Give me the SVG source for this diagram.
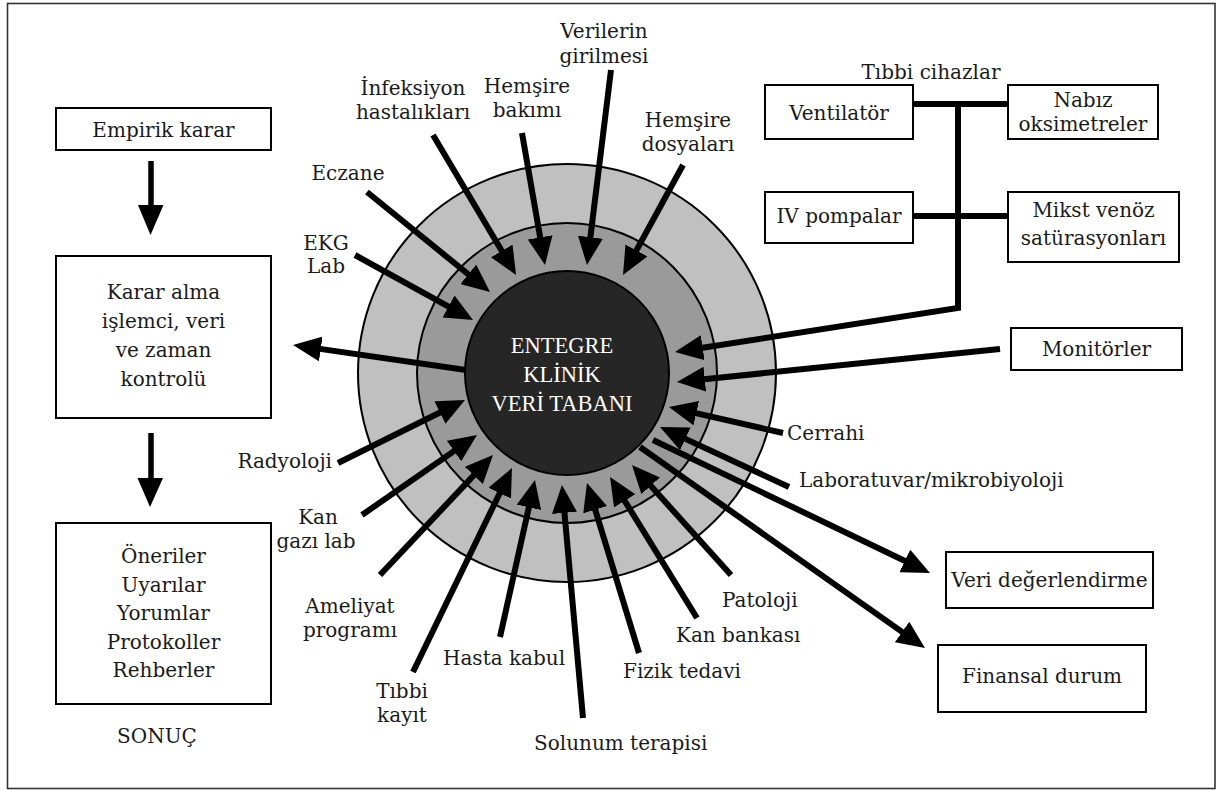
<svg xmlns="http://www.w3.org/2000/svg" width="1217" height="790" viewBox="0 0 1217 790">
<style>
text{font-family:"DejaVu Serif","Liberation Serif",serif;font-size:20px;fill:#1a1a1a}
.c{text-anchor:middle}
.box{fill:#fff;stroke:#000;stroke-width:2}
.ln{fill:none;stroke:#000;stroke-width:6}
.ctr{font-family:"Liberation Serif",serif;font-size:22.5px;fill:#fff;text-anchor:middle}
</style>
<defs>
<marker id="ah" markerUnits="userSpaceOnUse" viewBox="0 0 28 25" markerWidth="28" markerHeight="25" refX="13" refY="12.5" orient="auto"><path d="M0,0 L28,12.5 L0,25 Z" fill="#000"/></marker>
</defs>
<rect x="7.5" y="3.5" width="1207.5" height="785" fill="#fff" stroke="#333" stroke-width="1.6"/>

<g id="database">
<circle cx="567" cy="373" r="209" fill="#c0c0c0" stroke="#000" stroke-width="2"/>
<circle cx="567" cy="373" r="150" fill="#9a9a9a" stroke="#000" stroke-width="2"/>
<circle cx="567" cy="373" r="102" fill="#262626" stroke="#000" stroke-width="2"/>
</g>

<g id="connectors">
<path class="ln" d="M433,135 L508.4,262.1" marker-end="url(#ah)"/>
<path class="ln" d="M522,133 L542.4,250.2" marker-end="url(#ah)"/>
<path class="ln" d="M611,70 L588.8,250.1" marker-end="url(#ah)"/>
<path class="ln" d="M683,165 L630.2,261.8" marker-end="url(#ah)"/>
<path class="ln" d="M367,192 L478.4,282.5" marker-end="url(#ah)"/>
<path class="ln" d="M355,255 L459.9,312.8" marker-end="url(#ah)"/>
<path class="ln" d="M466,370 L307.9,347.1" marker-end="url(#ah)"/>
<path class="ln" d="M338,463 L451.6,406.7" marker-end="url(#ah)"/>
<path class="ln" d="M362,515 L464.7,443.6" marker-end="url(#ah)"/>
<path class="ln" d="M380,575 L482.7,465.9" marker-end="url(#ah)"/>
<path class="ln" d="M413,672 L505.4,481.5" marker-end="url(#ah)"/>
<path class="ln" d="M500,637 L531.7,494.6" marker-end="url(#ah)"/>
<path class="ln" d="M583,718 L563.3,499.9" marker-end="url(#ah)"/>
<path class="ln" d="M639,653 L591.4,497.3" marker-end="url(#ah)"/>
<path class="ln" d="M697,618 L617.9,489.8" marker-end="url(#ah)"/>
<path class="ln" d="M731,575 L642,476.1" marker-end="url(#ah)"/>
<path class="ln" d="M789,487 L673.6,433.4" marker-end="url(#ah)"/>
<path class="ln" d="M783,433 L683.6,410.3" marker-end="url(#ah)"/>
<path class="ln" d="M1000,349 L691.9,380.5" marker-end="url(#ah)"/>
<path class="ln" d="M913,104 L1008,104 M913,216 L1008,216"/>
<path class="ln" d="M958,104 L958,308 L689.8,349.7" marker-end="url(#ah)"/>
<path class="ln" d="M653,440 L916.5,566.5" marker-end="url(#ah)"/>
<path class="ln" d="M640,447 L912.7,639.4" marker-end="url(#ah)"/>
<path d="M151,161 L151,207" stroke="#000" stroke-width="5.5"/>
<polygon points="138,205 163.5,205 150.5,235" fill="#000"/>
<path d="M151,433 L151,480" stroke="#000" stroke-width="5.5"/>
<polygon points="137.5,478 163,478 150,507" fill="#000"/>
</g>

<g id="center-label">
<text class="ctr" x="562" y="353">ENTEGRE</text>
<text class="ctr" x="562" y="382">KLİNİK</text>
<text class="ctr" x="562" y="411">VERİ TABANI</text>
</g>

<g id="empirik"><rect class="box" x="56" y="108" width="215" height="42"/><text class="c" x="163.5" y="137">Empirik karar</text></g>
<g id="karar"><rect class="box" x="56" y="256" width="215" height="162"/>
<text class="c" x="163.5" y="299">Karar alma</text><text class="c" x="163.5" y="328">işlemci, veri</text><text class="c" x="163.5" y="357">ve zaman</text><text class="c" x="163.5" y="386">kontrolü</text></g>
<g id="sonuc"><rect class="box" x="56" y="523" width="215" height="181"/>
<text class="c" x="163.5" y="563">Öneriler</text><text class="c" x="163.5" y="591.5">Uyarılar</text><text class="c" x="163.5" y="620">Yorumlar</text><text class="c" x="163.5" y="648.5">Protokoller</text><text class="c" x="163.5" y="677">Rehberler</text></g>
<g id="sonuc-label"><text class="c" x="157" y="743">SONUÇ</text></g>

<g id="tibbi-cihazlar"><text class="c" x="931" y="79">Tıbbi cihazlar</text></g>
<g id="ventilator"><rect class="box" x="765" y="85" width="148" height="54"/><text class="c" x="839" y="120">Ventilatör</text></g>
<g id="nabiz"><rect class="box" x="1008" y="85" width="150" height="54"/><text class="c" x="1083" y="107">Nabız</text><text class="c" x="1083" y="131">oksimetreler</text></g>
<g id="iv"><rect class="box" x="765" y="192" width="148" height="51"/><text class="c" x="839" y="223">IV pompalar</text></g>
<g id="mikst"><rect class="box" x="1008" y="192" width="171" height="70"/><text class="c" x="1093.5" y="217">Mikst venöz</text><text class="c" x="1093.5" y="245">satürasyonları</text></g>
<g id="monitorler"><rect class="box" x="1011" y="328" width="171" height="42"/><text class="c" x="1096.5" y="356">Monitörler</text></g>
<g id="veri-deg"><rect class="box" x="946" y="552" width="207" height="56"/><text class="c" x="1049.5" y="587">Veri değerlendirme</text></g>
<g id="finansal"><rect class="box" x="938" y="645" width="208" height="67"/><text class="c" x="1042" y="683">Finansal durum</text></g>

<g id="lbl-cerrahi"><text x="787" y="440">Cerrahi</text></g>
<g id="lbl-lab"><text x="799" y="487">Laboratuvar/mikrobiyoloji</text></g>
<g id="lbl-patoloji"><text x="722" y="607">Patoloji</text></g>
<g id="lbl-kanbank"><text x="676" y="642">Kan bankası</text></g>
<g id="lbl-fizik"><text x="623" y="678">Fizik tedavi</text></g>
<g id="lbl-solunum"><text x="534" y="750">Solunum terapisi</text></g>
<g id="lbl-hasta"><text x="443" y="665">Hasta kabul</text></g>
<g id="lbl-tibbikayit"><text class="c" x="402" y="698">Tıbbi</text><text class="c" x="402" y="722">kayıt</text></g>
<g id="lbl-ameliyat"><text class="c" x="350" y="613">Ameliyat</text><text class="c" x="350" y="637">programı</text></g>
<g id="lbl-kangazi"><text class="c" x="318" y="524">Kan</text><text class="c" x="316" y="548">gazı lab</text></g>
<g id="lbl-radyoloji"><text x="332" y="468" text-anchor="end">Radyoloji</text></g>
<g id="lbl-ekg"><text class="c" x="326" y="250">EKG</text><text class="c" x="326" y="273">Lab</text></g>
<g id="lbl-eczane"><text class="c" x="348" y="180">Eczane</text></g>
<g id="lbl-infeksiyon"><text class="c" x="413" y="95">İnfeksiyon</text><text class="c" x="413" y="119">hastalıkları</text></g>
<g id="lbl-hemsire-bakim"><text class="c" x="527" y="93">Hemşire</text><text class="c" x="527" y="117">bakımı</text></g>
<g id="lbl-verilerin"><text class="c" x="604" y="38">Verilerin</text><text class="c" x="604" y="63">girilmesi</text></g>
<g id="lbl-hemsire-dosya"><text class="c" x="688" y="127">Hemşire</text><text class="c" x="688" y="151">dosyaları</text></g>
</svg>
